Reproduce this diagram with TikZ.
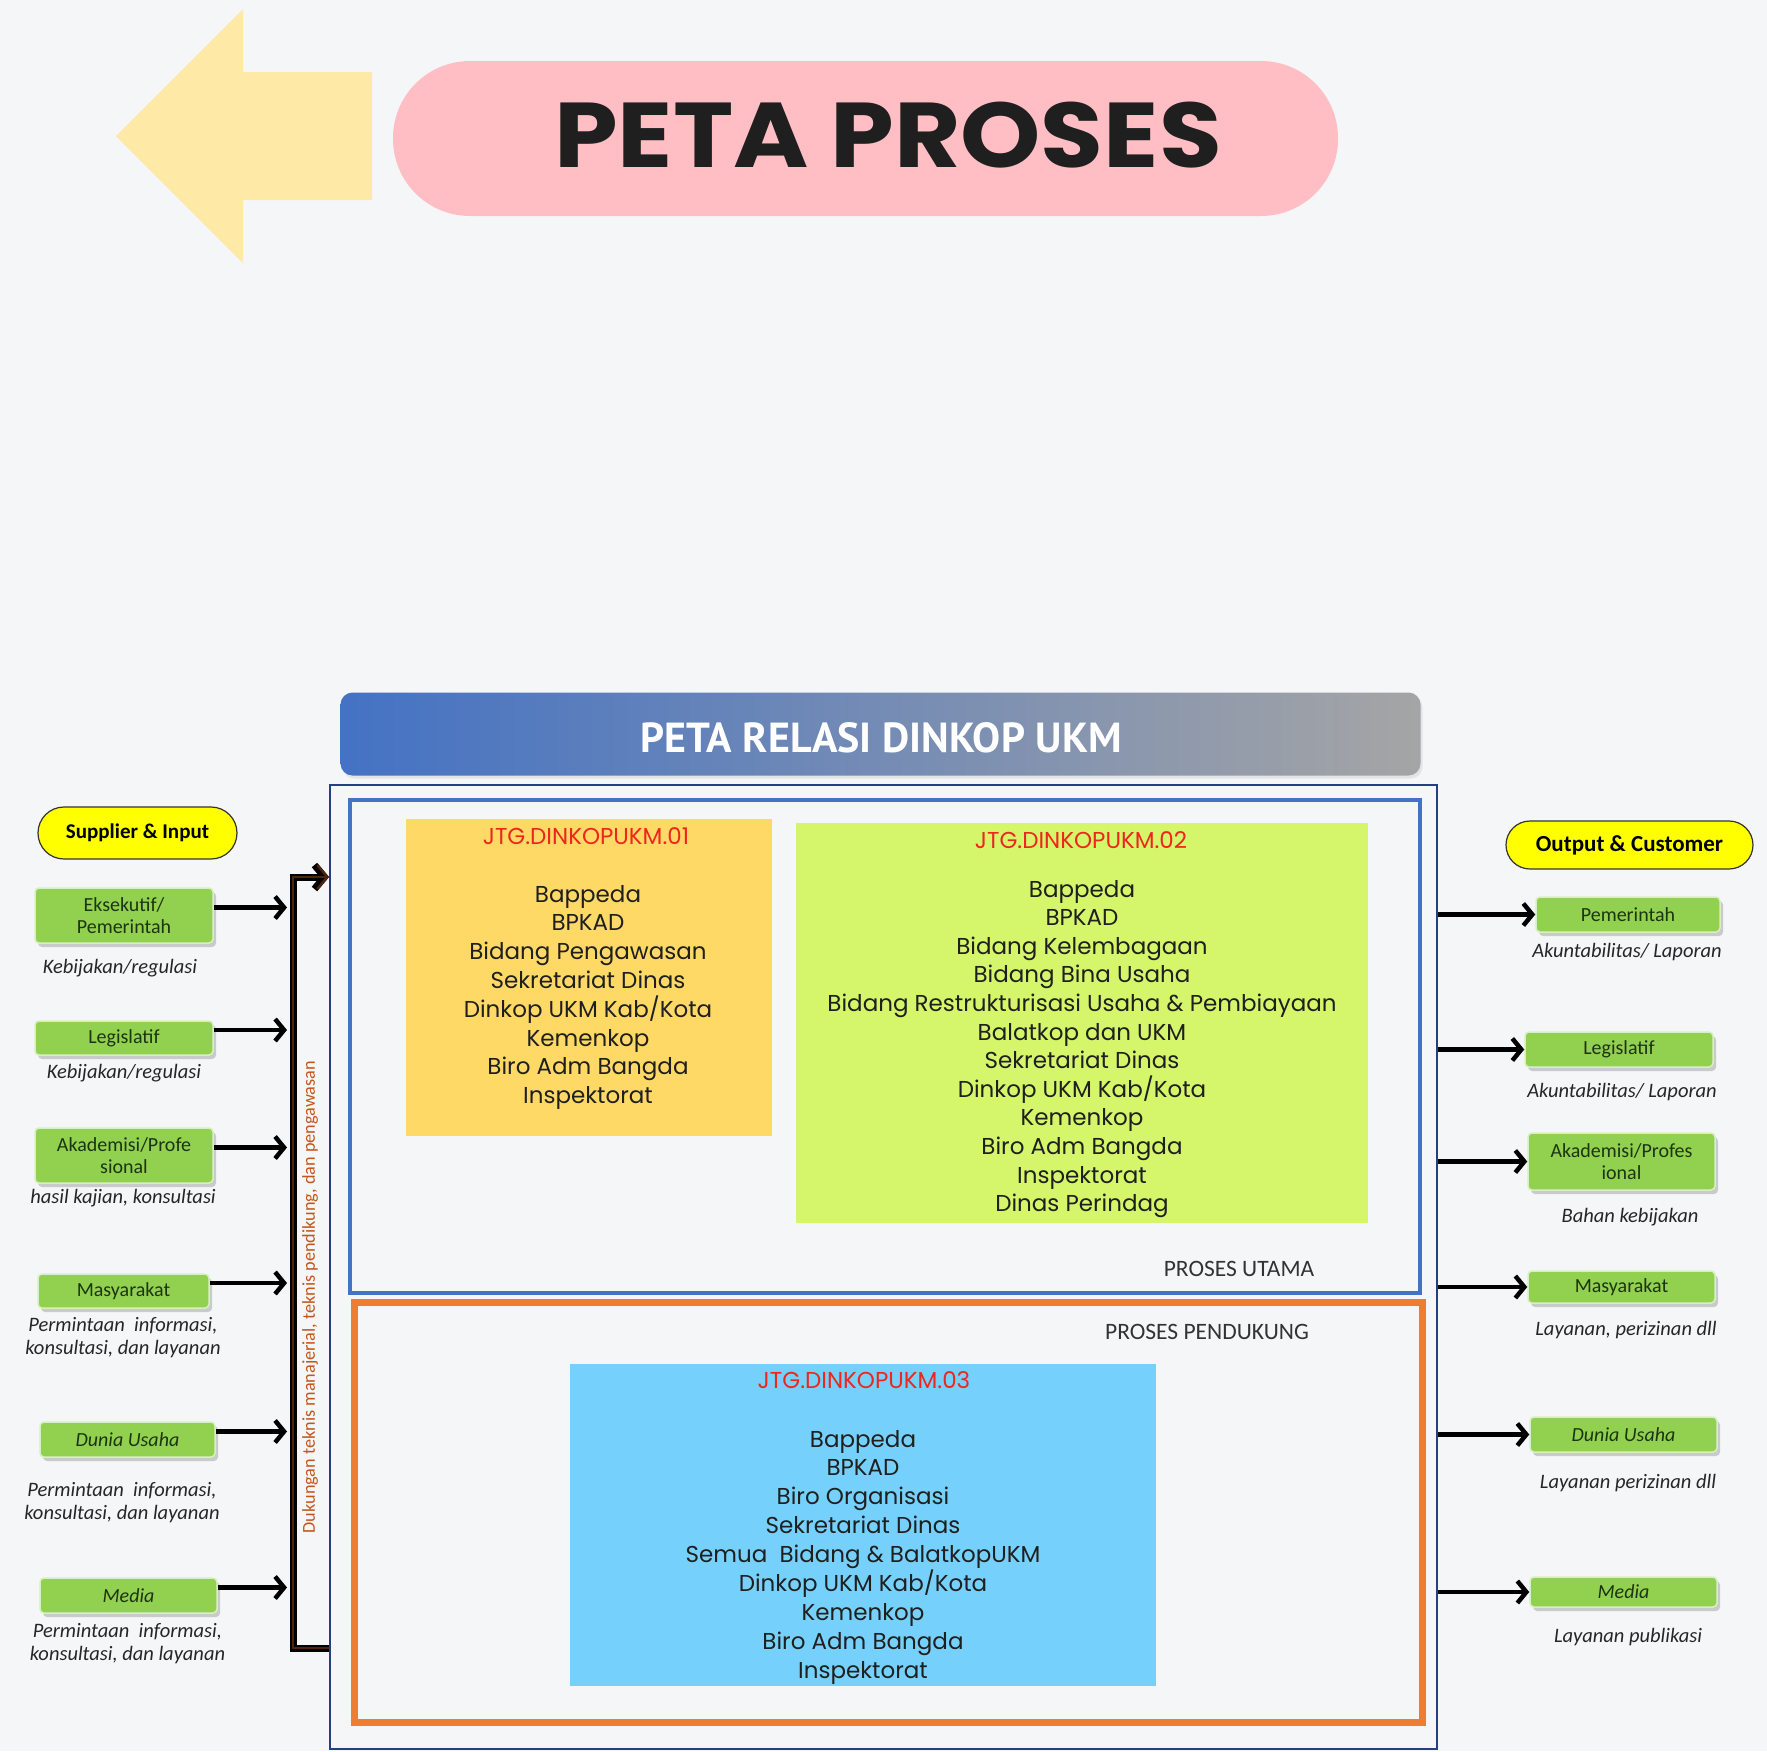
\documentclass[tikz,border=0pt]{standalone}
\usepackage{fontspec}
\setmainfont{Carlito}
\newfontfamily\popfont{Poppins}
\newfontfamily\ptfont{PT Sans}
\usetikzlibrary{arrows.meta,shadows,positioning}
\definecolor{bgcol}{RGB}{245,246,248}
\definecolor{arrowyel}{RGB}{255,233,166}
\definecolor{pillpink}{RGB}{255,190,196}
\definecolor{relblue}{RGB}{68,114,196}
\definecolor{relgray}{RGB}{165,165,165}
\definecolor{framenavy}{RGB}{38,62,134}
\definecolor{utamablue}{RGB}{68,114,196}
\definecolor{dukungorange}{RGB}{237,125,49}
\definecolor{jtgyel}{RGB}{255,217,102}
\definecolor{jtglime}{RGB}{213,245,107}
\definecolor{jtgsky}{RGB}{117,209,251}
\definecolor{jtgred}{RGB}{238,38,30}
\definecolor{actgreen}{RGB}{146,208,80}
\definecolor{acttext}{RGB}{28,52,18}
\definecolor{pillyel}{RGB}{255,255,0}
\definecolor{barbrown}{RGB}{80,35,12}
\definecolor{dukungtext}{RGB}{197,86,27}
\tikzset{
	actor/.style={rectangle, rounded corners=4pt, fill=actgreen, draw=actgreen!35!white, line width=1.5pt, text=acttext, font=\fontsize{20}{22}\selectfont, align=center, inner sep=0pt, drop shadow={shadow xshift=3pt, shadow yshift=-4pt, opacity=0.3, fill=black!60}},
	capt/.style={font=\itshape\fontsize{20.5}{23}\selectfont, text=black!85, align=center, inner sep=0pt},
	grouppill/.style={fill=pillyel, draw=black!80, line width=1.2pt, font=\bfseries\fontsize{21}{24}\selectfont, inner sep=0pt},
	jtgbox/.style={rectangle, inner sep=0pt},
	jtgtitle/.style={font=\popfont\fontsize{23}{26}\selectfont, text=jtgred, anchor=base, inner sep=0pt},
	jtgitem/.style={font=\popfont\fontsize{23}{28}\selectfont, text=black!88, anchor=base, inner sep=0pt},
	prosname/.style={font=\fontsize{23.5}{26}\selectfont, text=black!80, inner sep=0pt},
	inarr/.style={line width=4.5pt, -{Straight Barb[length=9pt,width=22pt]}},
	barline/.style={line width=7pt, black, -{Straight Barb[length=10pt,width=24pt]}},
	barcore/.style={line width=2.5pt, barbrown, -{Straight Barb[length=10pt,width=24pt]}}
}
\begin{document}
\begin{tikzpicture}[x=1pt,y=-1pt]
	\useasboundingbox (0,0) rectangle (1767,1751);
	\fill[bgcol] (0,0) rectangle (1767,1751);
	\fill[arrowyel] (116,136) -- (243,9) -- (243,72) -- (372,72) -- (372,200) -- (243,200) -- (243,263) -- cycle;
	\node[fill=pillpink, rounded corners=77pt, minimum width=945pt, minimum height=155pt, inner sep=0pt] (judul) at (865.5,138.5) {};
	\node[font=\popfont\bfseries\fontsize{92}{100}\selectfont, text=black!88] (judulteks) at (888,135) {\scalebox{1.11}[1]{PETA PROSES}};

	\node[rounded corners=12pt, left color=relblue, right color=relgray, minimum width=1080pt, minimum height=83pt, inner sep=0pt, drop shadow={shadow xshift=2pt, shadow yshift=-3pt, opacity=0.15}] (relasi) at (880.5,734) {};
	\node[font=\ptfont\bfseries\fontsize{42}{44}\selectfont, text=white] (relasiteks) at (881,738) {PETA RELASI DINKOP UKM};

	\node[draw=framenavy, line width=2pt, minimum width=1107pt, minimum height=964pt, inner sep=0pt] (frame) at (883.5,1267) {};
	\node[draw=utamablue, line width=4pt, minimum width=1070pt, minimum height=493pt, inner sep=0pt] (utama) at (885,1046.5) {};
	\node[draw=dukungorange, line width=7pt, minimum width=1068pt, minimum height=420pt, inner sep=0pt] (dukung) at (888,1512) {};
	\node[prosname] (utamateks) at (1239,1269) {PROSES UTAMA};
	\node[prosname] (dukungteks) at (1207,1332) {PROSES PENDUKUNG};

	\node[jtgbox, fill=jtgyel, minimum width=366pt, minimum height=317pt] (j1) at (588.5,977.5) {};
	\node[jtgtitle] (j1t) at (586,844) {JTG.DINKOPUKM.01};
	\foreach \nm [count=\i] in {Bappeda, BPKAD, Bidang Pengawasan, Sekretariat Dinas, Dinkop UKM Kab/Kota, Kemenkop, Biro Adm Bangda, Inspektorat}
		\node[jtgitem] (a\i) at (588,{902+28.8*(\i-1)}) {\nm};

	\node[jtgbox, fill=jtglime, minimum width=572pt, minimum height=400pt] (j2) at (1082,1023) {};
	\node[jtgtitle] (j2t) at (1081,848) {JTG.DINKOPUKM.02};
	\foreach \nm [count=\i] in {Bappeda, BPKAD, Bidang Kelembagaan, Bidang Bina Usaha, Bidang Restrukturisasi\ Usaha \& Pembiayaan, Balatkop dan UKM, Sekretariat Dinas, Dinkop UKM Kab/Kota, Kemenkop, Biro Adm Bangda, Inspektorat, Dinas Perindag}
		\node[jtgitem] (b\i) at (1082,{897+28.6*(\i-1)}) {\nm};

	\node[jtgbox, fill=jtgsky, minimum width=586pt, minimum height=322pt] (j3) at (863,1525) {};
	\node[jtgtitle] (j3t) at (864,1388) {JTG.DINKOPUKM.03};
	\foreach \nm [count=\i] in {Bappeda, BPKAD, Biro Organisasi, Sekretariat Dinas, Semua\ \ Bidang \& BalatkopUKM, Dinkop UKM Kab/Kota, Kemenkop, Biro Adm Bangda, Inspektorat}
		\node[jtgitem] (c\i) at (863,{1447+28.9*(\i-1)}) {\nm};

	\node[grouppill, rounded corners=26pt, minimum width=199pt, minimum height=52pt] (supplier) at (137.5,833) {Supplier \& Input};
	\node[grouppill, rounded corners=24pt, minimum width=247pt, minimum height=48pt, font=\bfseries\fontsize{23}{24}\selectfont] (output) at (1629.5,845) {Output \& Customer};

	\node[actor, minimum width=178pt, minimum height=55pt] (eks) at (124,915.5) {Eksekutif/\\Pemerintah};
	\node[actor, minimum width=178pt, minimum height=34pt] (leg) at (124,1038) {Legislatif};
	\node[actor, minimum width=178pt, minimum height=55pt] (aka) at (124,1155.5) {Akademisi/Profe\\sional};
	\node[actor, minimum width=171pt, minimum height=34pt] (mas) at (123.5,1291) {Masyarakat};
	\node[actor, minimum width=175pt, minimum height=35pt, font=\itshape\fontsize{20}{22}\selectfont] (dun) at (127.5,1439.5) {Dunia Usaha};
	\node[actor, minimum width=177pt, minimum height=35pt, font=\itshape\fontsize{20}{22}\selectfont] (med) at (128.5,1595.5) {Media};

	\node[capt] (eksc) at (120,968) {Kebijakan/regulasi};
	\node[capt] (legc) at (124,1073) {Kebijakan/regulasi};
	\node[capt] (akac) at (123,1198) {hasil kajian, konsultasi};
	\node[capt] (masc) at (123,1338) {Permintaan\ \ informasi,\\konsultasi, dan layanan};
	\node[capt] (dunc) at (122,1503) {Permintaan\ \ informasi,\\konsultasi, dan layanan};
	\node[capt] (medc) at (127.5,1644) {Permintaan\ \ informasi,\\konsultasi, dan layanan};

	\node[actor, minimum width=184pt, minimum height=35pt] (pem2) at (1628,914.5) {Pemerintah};
	\node[actor, minimum width=188pt, minimum height=35pt] (leg2) at (1619,1049.5) {Legislatif};
	\node[actor, minimum width=187pt, minimum height=57pt] (aka2) at (1621.5,1161.5) {Akademisi/Profes\\ional};
	\node[actor, minimum width=187pt, minimum height=32pt] (mas2) at (1621.5,1287) {Masyarakat};
	\node[actor, minimum width=187pt, minimum height=35pt, font=\itshape\fontsize{20}{22}\selectfont] (dun2) at (1623.5,1434.5) {Dunia Usaha};
	\node[actor, minimum width=187pt, minimum height=30pt, font=\itshape\fontsize{20}{22}\selectfont] (med2) at (1623.5,1592) {Media};

	\node[capt] (pemc2) at (1627,952) {Akuntabilitas/ Laporan};
	\node[capt] (legc2) at (1622,1092) {Akuntabilitas/ Laporan};
	\node[capt] (akac2) at (1630,1217) {Bahan kebijakan};
	\node[capt] (masc2) at (1626,1330) {Layanan, perizinan dll};
	\node[capt] (dunc2) at (1628,1483) {Layanan perizinan dll};
	\node[capt] (medc2) at (1628,1637) {Layanan publikasi};

	\coordinate (bartop) at (293,877);
	\coordinate (barbot) at (293,1648);
	\draw[barline] (barbot -| frame.west) -- (barbot) -- (bartop) -- (bartop -| frame.west);
	\draw[barcore] (barbot -| frame.west) -- (barbot) -- (bartop) -- (bartop -| frame.west);
	\node[rotate=90, font=\fontsize{18.2}{20}\selectfont, text=dukungtext, inner sep=0pt] (dukungnote) at (310,1297) {Dukungan teknis manajerial, teknis pendikung, dan pengawasan};

	\foreach \a in {eks,leg,aka,mas,dun,med}
		\draw[inarr, shorten >=6pt] ([yshift=8pt]\a.east) -- ([yshift=8pt]\a.east -| bartop);
	\foreach \a in {pem2,leg2,aka2,mas2,dun2,med2}
		\draw[inarr] (\a.west -| frame.east) -- (\a.west);
\end{tikzpicture}
\end{document}
